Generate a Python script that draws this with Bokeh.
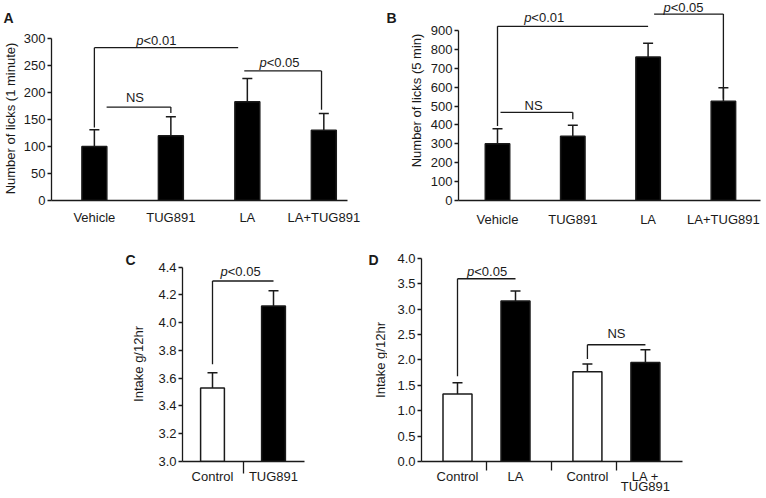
import math
from bokeh.plotting import figure
from bokeh.models import Range1d, FixedTicker, NumeralTickFormatter
from bokeh.layouts import row, column
from bokeh.embed import file_html
from bokeh.resources import INLINE
from bokeh.core.properties import value

FONT = "Liberation Sans"
INK = "#1a1a1a"

# ---------------- data ----------------
# Panel A : number of licks (1 minute)
A_categories = ["Vehicle", "TUG891", "LA", "LA+TUG891"]
A_means = [100, 120, 183, 130]
A_sem = [31, 35, 43, 31]
A_yticks = [0, 50, 100, 150, 200, 250, 300]
A_ylabel = "Number of licks (1 minute)"
# brackets: (x0, x1, y, left drop to, right drop to, label, label x, label y)
A_brackets = [
    (0.0, 1.88, 283, 135, None, "p<0.01", 0.81, 296),
    (0.16, 1.0, 173, None, 162, "NS", 0.53, 191),
    (1.96, 2.97, 240, None, 168, "p<0.05", 2.42, 256),
]

# Panel B : number of licks (5 min)
B_categories = ["Vehicle", "TUG891", "LA", "LA+TUG891"]
B_means = [300, 340, 760, 525]
B_sem = [80, 58, 72, 72]
B_yticks = [0, 100, 200, 300, 400, 500, 600, 700, 800, 900]
B_ylabel = "Number of licks (5 min)"
B_brackets = [
    (0.0, 2.0, 922, 394, None, "p<0.01", 0.62, 969),
    (2.08, 3.0, 987, None, 539, "p<0.05", 2.47, 1020),
    (0.04, 1.0, 467, None, 430, "NS", 0.48, 503),
]

# Panel C : intake g/12hr
C_categories = ["Control", "TUG891"]
C_means = [3.53, 4.12]
C_sem = [0.11, 0.11]
C_treated = [False, True]
C_yticks = [3.0, 3.2, 3.4, 3.6, 3.8, 4.0, 4.2, 4.4]
C_ylabel = "Intake g/12hr"
C_brackets = [
    (0.0, 1.0, 4.30, 3.70, None, "p<0.05", 0.46, 4.37),
]

# Panel D : intake g/12hr
D_categories = ["Control", "LA", "Control", "LA +\nTUG891"]
D_groups = [0, 0, 1, 1]
D_means = [1.33, 3.16, 1.77, 1.95]
D_sem = [0.22, 0.20, 0.15, 0.25]
D_treated = [False, True, False, True]
D_yticks = [0.0, 0.5, 1.0, 1.5, 2.0, 2.5, 3.0, 3.5, 4.0]
D_ylabel = "Intake g/12hr"
D_group_gap = 0.24
D_brackets = [
    (0.0, 1.0, 3.60, 1.68, None, "p<0.05", 0.51, 3.75),
    (2.24, 3.24, 2.30, 2.02, None, "NS", 2.74, 2.53),
]

PANEL_LETTERS = ["A", "B", "C", "D"]

# ---------------- helpers ----------------
_W = {'p': 0.556, '<': 0.584, '.': 0.278, 'N': 0.722, 'S': 0.667}
for _d in "0123456789":
    _W[_d] = 0.556


def tw(s, size=13):
    return sum(_W.get(c, 0.556) for c in s) * size


def base_fig(width, height, borders, xr, yr, axes=True):
    l, r, t, b = borders
    kw = {}
    if not axes:
        kw = dict(x_axis_type=None, y_axis_type=None)
    p = figure(width=width, height=height, x_range=Range1d(*xr), y_range=Range1d(*yr),
               output_backend="svg", toolbar_location=None, title=None,
               min_border_left=l, min_border_right=r, min_border_top=t, min_border_bottom=b, **kw)
    p.outline_line_color = None
    p.xgrid.visible = False
    p.ygrid.visible = False
    p.background_fill_color = "white"
    p.border_fill_color = "white"
    if axes:
        for ax in (p.xaxis[0], p.yaxis[0]):
            ax.axis_line_color = INK
            ax.axis_line_width = 1.3
            ax.major_tick_line_color = INK
            ax.major_tick_line_width = 1.3
            ax.minor_tick_line_color = INK
            ax.minor_tick_line_width = 1.3
            ax.major_label_text_font = FONT
            ax.major_label_text_font_size = "13px"
            ax.major_label_text_color = INK
            ax.axis_label_text_font = FONT
            ax.axis_label_text_font_size = "13px"
            ax.axis_label_text_font_style = "normal"
            ax.axis_label_text_color = INK
    return p


def setup_y(p, ticks, label=None, fmt=None, label_standoff=4):
    ax = p.yaxis[0]
    ax.ticker = FixedTicker(ticks=ticks)
    ax.bounds = (ticks[0], ticks[-1])
    ax.major_tick_out = 4
    ax.major_tick_in = 0
    ax.minor_tick_out = 0
    ax.minor_tick_in = 0
    ax.major_label_standoff = 2
    if label:
        ax.axis_label = label
        ax.axis_label_standoff = label_standoff
    if fmt:
        ax.formatter = NumeralTickFormatter(format=fmt)


def setup_x(p, pos, cats, between, tick_len, standoff, bounds, line_height=0.85):
    ax = p.xaxis[0]
    ax.ticker = FixedTicker(ticks=pos, minor_ticks=between)
    ax.major_label_overrides = {float(x): c for x, c in zip(pos, cats)}
    ax.major_tick_out = 0
    ax.major_tick_in = 0
    ax.minor_tick_out = tick_len
    ax.minor_tick_in = 0
    ax.major_label_standoff = standoff
    ax.major_label_text_line_height = line_height
    ax.bounds = bounds


def bars(p, pos, means, sem, base, width, fills):
    p.vbar(x=pos, top=means, bottom=base, width=width, fill_color=fills,
           line_color=INK, line_width=1.5)
    tops = [m + s for m, s in zip(means, sem)]
    p.segment(x0=pos, y0=means, x1=pos, y1=tops, line_color=INK, line_width=1.5)
    p.scatter(x=pos, y=tops, marker="dash", size=10, line_color=INK, line_width=1.5)


def sig_text(p, x, y, label):
    if label.startswith("p"):
        off = -tw(label) / 2 + tw("p")
        p.text(x=[x], y=[y], text=["p"], text_align="right", text_baseline="middle",
               x_offset=off, text_font=value(FONT), text_font_style="italic",
               text_font_size="13px", text_color=INK)
        p.text(x=[x], y=[y], text=[label[1:]], text_align="left", text_baseline="middle",
               x_offset=off, text_font=value(FONT), text_font_size="13px", text_color=INK)
    else:
        p.text(x=[x], y=[y], text=[label], text_align="center", text_baseline="middle",
               text_font=value(FONT), text_font_size="13px", text_color=INK)


def brackets(p, spec):
    for x0, x1, y, d0, d1, lab, tx, ty in spec:
        p.segment(x0=[x0], y0=[y], x1=[x1], y1=[y], line_color=INK, line_width=1.3)
        if d0 is not None:
            p.segment(x0=[x0], y0=[y], x1=[x0], y1=[d0], line_color=INK, line_width=1.3)
        if d1 is not None:
            p.segment(x0=[x1], y0=[y], x1=[x1], y1=[d1], line_color=INK, line_width=1.3)
        sig_text(p, tx, ty, lab)


def letter(p, txt, x, y, align="left"):
    p.text(x=[x], y=[y], text=[txt], text_align=align, text_baseline="alphabetic",
           text_font=value(FONT), text_font_style="bold", text_font_size="14px",
           text_color=INK)


def side_title(p, txt, x, y):
    p.text(x=[x], y=[y], text=[txt], angle=math.pi / 2, text_align="center",
           text_baseline="middle", text_font=value(FONT), text_font_size="13px",
           text_color=INK)


# ================= top row =================
TOP_H = 234
TOP_BORDER_T, TOP_BORDER_B = 0, 34        # frames: y 0 .. 200 (page px)
FRAME_H_TOP = TOP_H - TOP_BORDER_T - TOP_BORDER_B

# strip left of A : letter A and A's axis title (page-pixel coordinates)
pL = base_fig(20, TOP_H, (0, 0, TOP_BORDER_T, TOP_BORDER_B), (0, 20),
              (FRAME_H_TOP + TOP_BORDER_T, TOP_BORDER_T), axes=False)
letter(pL, PANEL_LETTERS[0], 3, 17)
side_title(pL, A_ylabel, 10, 118)

# panel A : frame x 50..400, y-axis drawn 0..300 with 0.54 px per lick
A_pos = list(range(len(A_categories)))
A_unit = 76.7                     # px per category
A_x0 = (50 - 93) / A_unit
A_x1 = (400 - 93) / A_unit
A_yscale = 0.54
pA = base_fig(380, TOP_H, (30, 0, TOP_BORDER_T, TOP_BORDER_B), (A_x0, A_x1),
              (0, FRAME_H_TOP / A_yscale))
bars(pA, A_pos, A_means, A_sem, 0, 0.326, ["black"] * len(A_pos))
brackets(pA, A_brackets)
setup_y(pA, A_yticks)
setup_x(pA, A_pos, A_categories, [], 0, 9, (A_x0, (347 - 93) / A_unit))
# letter B sits left of panel B's axis title, inside A's (invisible) frame area
letter(pA, PANEL_LETTERS[1], (386 - 93) / A_unit, (FRAME_H_TOP - 17) / A_yscale)

# panel B : frame x 458..760
B_pos = list(range(len(B_categories)))
B_unit = 75.3
B_x0 = (458 - 497) / B_unit
B_x1 = (760 - 497) / B_unit
B_yscale = 0.1889
pB = base_fig(364, TOP_H, (58, 4, TOP_BORDER_T, TOP_BORDER_B), (B_x0, B_x1),
              (0, FRAME_H_TOP / B_yscale))
bars(pB, B_pos, B_means, B_sem, 0, 0.325, ["black"] * len(B_pos))
brackets(pB, B_brackets)
setup_y(pB, B_yticks, B_ylabel)
setup_x(pB, B_pos, B_categories, [], 0, 11, (B_x0, B_x1))

# ================= bottom row =================
BOT_TOP = TOP_H
BOT_H = 263
BOT_BORDER_T, BOT_BORDER_B = 10, 35       # frames: y 244 .. 462 (page px)
FRAME_TOP = BOT_TOP + BOT_BORDER_T
FRAME_BOT = BOT_TOP + BOT_H - BOT_BORDER_B

# strip left of C : letter C and C's axis title (page-pixel coordinates)
pS = base_fig(150, BOT_H, (0, 0, BOT_BORDER_T, BOT_BORDER_B), (0, 150),
              (FRAME_BOT, FRAME_TOP), axes=False)
letter(pS, PANEL_LETTERS[2], 135, 260, align="right")
side_title(pS, C_ylabel, 138, 364)

# panel C : frame x 182..387 (axis drawn to 304)
C_pos = list(range(len(C_categories)))
C_between = [(a + b) / 2 for a, b in zip(C_pos[:-1], C_pos[1:])]
C_unit = 61.0
C_x0 = (182 - 212) / C_unit
C_x1 = (387 - 212) / C_unit
C_yscale = 139.5
C_ybase = C_yticks[0]
pC = base_fig(237, BOT_H, (32, 0, BOT_BORDER_T, BOT_BORDER_B), (C_x0, C_x1),
              (C_ybase, C_ybase + (FRAME_BOT - FRAME_TOP) / C_yscale))
bars(pC, C_pos, C_means, C_sem, C_ybase, 0.39,
     ["black" if t else "white" for t in C_treated])
brackets(pC, C_brackets)
setup_y(pC, C_yticks, None, "0.0")
setup_x(pC, C_pos, C_categories, C_between, 12, -5, (C_x0, (304 - 212) / C_unit))
# letter D and panel D's axis title, placed in C's (invisible) frame area
letter(pC, PANEL_LETTERS[3], (368 - 212) / C_unit, C_ybase + (FRAME_BOT - 260) / C_yscale)
side_title(pC, D_ylabel, (380 - 212) / C_unit, C_ybase + (FRAME_BOT - 360) / C_yscale)

# panel D : frame x 421..682
D_pos = [i + D_group_gap * g for i, g in enumerate(D_groups)]
D_between = [(a + b) / 2 for a, b in zip(D_pos[:-1], D_pos[1:])]
D_unit = 58.0
D_x0 = (421 - 457) / D_unit
D_x1 = (682 - 457) / D_unit
D_yscale = 51.0
pD = base_fig(377, BOT_H, (34, 82, BOT_BORDER_T, BOT_BORDER_B), (D_x0, D_x1),
              (0, (FRAME_BOT - FRAME_TOP) / D_yscale))
bars(pD, D_pos, D_means, D_sem, 0, 0.5,
     ["black" if t else "white" for t in D_treated])
brackets(pD, D_brackets)
setup_y(pD, D_yticks, None, "0.0")
setup_x(pD, D_pos, D_categories, D_between, 9, -2, (D_x0, D_x1), line_height=0.72)

layout = column(row(pL, pA, pB), row(pS, pC, pD))

open("out.html", "w").write(file_html(layout, INLINE))
